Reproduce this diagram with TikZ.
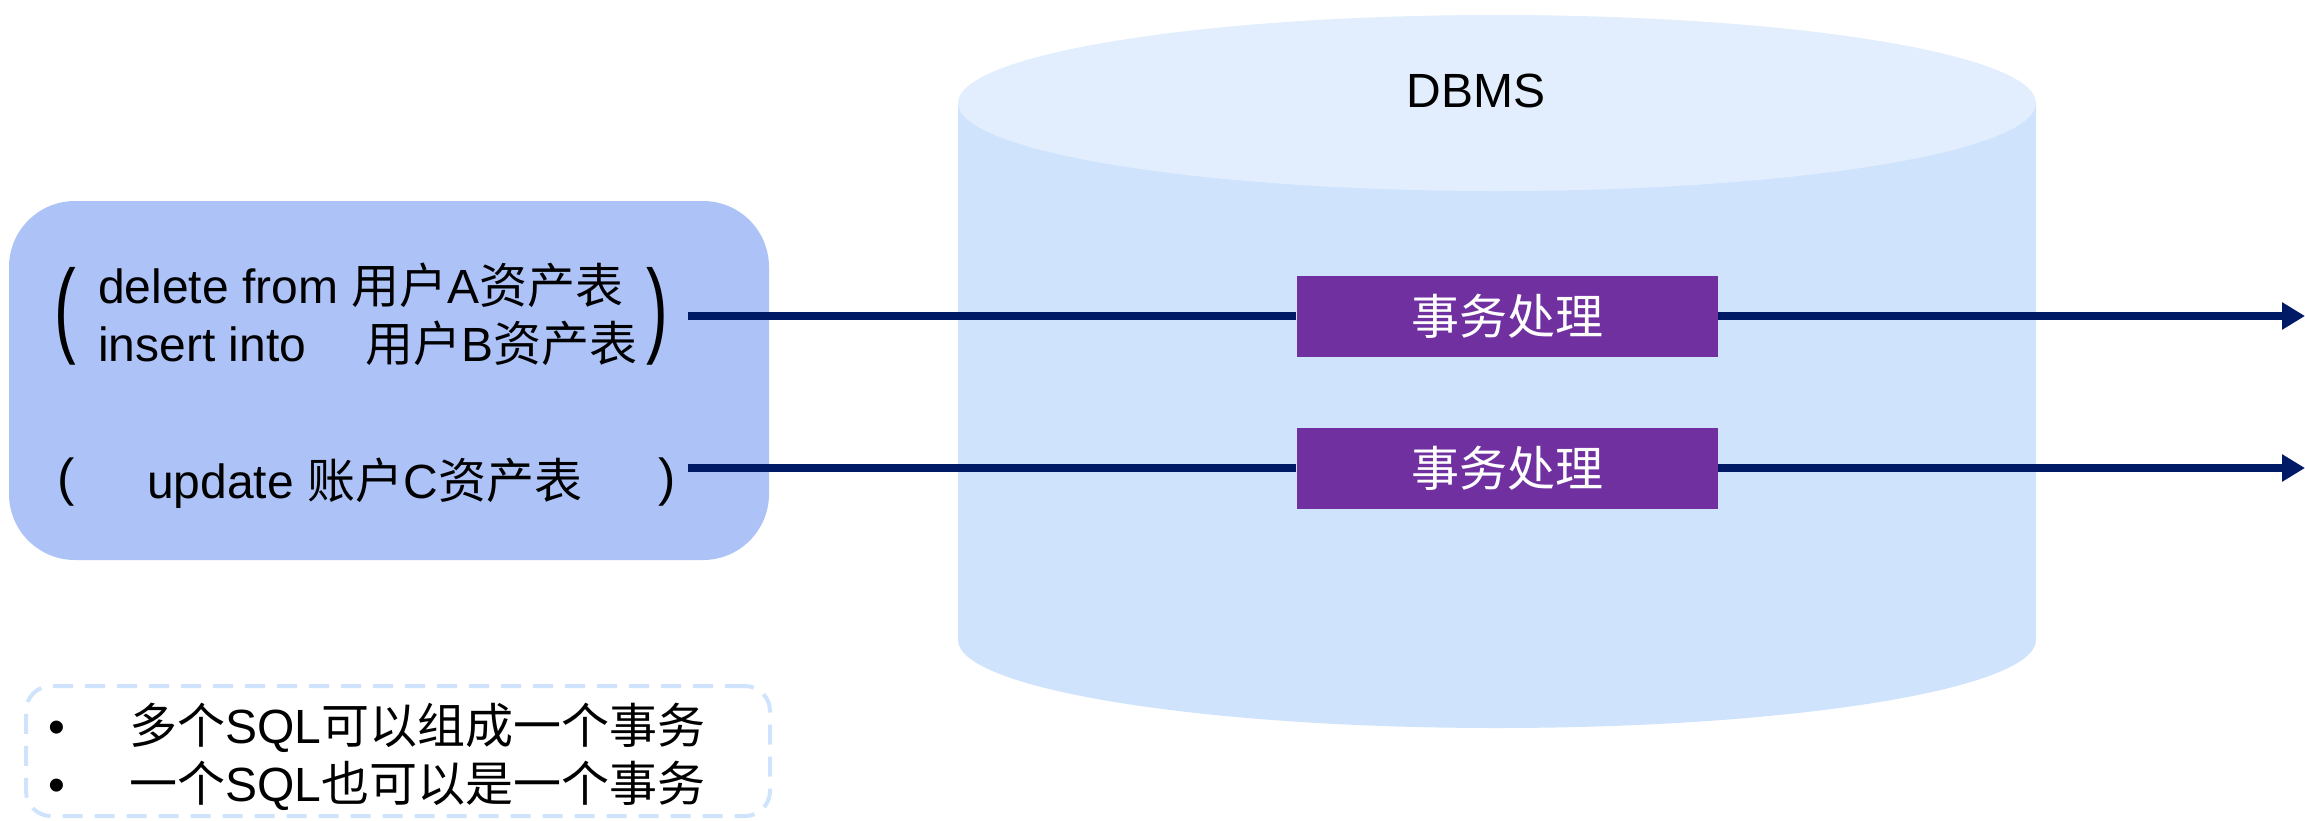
\documentclass[tikz,border=0pt]{standalone}
\usepackage{fontspec}
\setmainfont{Liberation Sans}
\newfontfamily\cjk{Noto Sans CJK SC}
\usetikzlibrary{arrows.meta}
\definecolor{dbbody}{HTML}{D0E3FC}
\definecolor{dbtop}{HTML}{E2EEFD}
\definecolor{srcbg}{HTML}{ADC3F8}
\definecolor{procbg}{HTML}{7030A0}
\definecolor{flowcol}{HTML}{001A66}
\definecolor{noteline}{HTML}{D0E3FC}
\newcommand\zh[1]{{\cjk #1}}
\newcommand\bigparen[1]{{\fontsize{105}{105}\selectfont\scalebox{0.62}[1]{#1}}}

\begin{document}
\begin{tikzpicture}[x=1pt,y=-1pt,
  every node/.style={inner sep=0pt, font=\fontsize{48}{58}\selectfont},
  srcbox/.style={fill=srcbg, rounded corners=66pt, minimum width=760pt, minimum height=359pt},
  procbox/.style={fill=procbg, text=white, minimum width=421pt, minimum height=81pt},
  flow/.style={draw=flowcol, line width=8pt},
  flowtip/.style={flow, -{Triangle[length=23pt,width=26pt]}},
  notebox/.style={draw=noteline, line width=4pt, dash pattern=on 20pt off 12pt,
    rounded corners=25pt, minimum width=744pt, minimum height=130pt},
  smallparen/.style={font=\fontsize{52}{58}\selectfont}]
\useasboundingbox (0,0) rectangle (2305,820);

% database cylinder
\fill[dbbody] (958,103) -- (958,640)
  arc[start angle=180, end angle=360, x radius=539pt, y radius=88pt]
  -- (2036,103) -- cycle;
\fill[dbtop] (1497,103) ellipse[x radius=539pt, y radius=88pt];
\node (dbms) at (1476,91) {DBMS};

% SQL statements
\node[srcbox] (src) at (389,380.5) {};
\node (lp1) at (65,316) {\bigparen{(}};
\node[anchor=east, inner xsep=20pt] (rp1) at (688,316) {\bigparen{)}};
\node[anchor=base west] (l1) at (98,303) {delete from \zh{用户}A\zh{资产表}};
\node[anchor=base west] (l2) at (98,361) {\makebox[267pt][l]{insert into}\zh{用户}B\zh{资产表}};

\node[smallparen] (lp2) at (66,482) {(};
\node[smallparen, anchor=east, inner xsep=12pt] (rp2) at (688,482) {)};
\node[anchor=base west] (l3) at (147,498) {update \zh{账户}C\zh{资产表}};

% transaction processing
\node[procbox] (proc1) at (1507,316) {\zh{事务处理}};
\node[procbox] (proc2) at (1507,468) {\zh{事务处理}};
\coordinate (out1) at (2305,316);
\coordinate (out2) at (2305,468);

\draw[flow] (rp1.east |- proc1.west) -- (proc1.west);
\draw[flowtip] (proc1.east) -- (out1);
\draw[flow] (rp2.east |- proc2.west) -- (proc2.west);
\draw[flowtip] (proc2.east) -- (out2);

% notes
\node[notebox] (note) at (398,751) {};
\node[anchor=base west] (n1) at (48,743) {\makebox[81pt][l]{•}\zh{多个}SQL\zh{可以组成一个事务}};
\node[anchor=base west] (n2) at (48,801) {\makebox[81pt][l]{•}\zh{一个}SQL\zh{也可以是一个事务}};
\end{tikzpicture}
\end{document}
